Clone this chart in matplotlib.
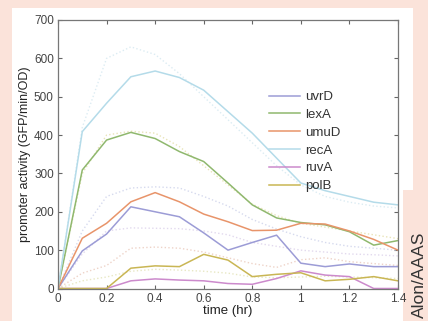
import numpy as np
import matplotlib
matplotlib.use('Agg')
from matplotlib import pyplot as plt
from matplotlib.patches import Polygon

plt.rcParams['font.family'] = ['Liberation Sans', 'DejaVu Sans']

t = [0, 0.1, 0.2, 0.3, 0.4, 0.5, 0.6, 0.7, 0.8, 0.9, 1.0, 1.1, 1.2, 1.3, 1.4]

uvrD = [0, 98, 142, 213, 200, 187, 145, 100, 120, 139, 66, 57, 64, 57, 57]
lexA = [0, 309, 387, 407, 391, 357, 331, 275, 218, 184, 172, 166, 148, 113, 125]
umuD = [0, 131, 170, 226, 250, 226, 194, 174, 151, 152, 170, 168, 150, 128, 100]
recA = [0, 409, 483, 552, 567, 550, 517, 461, 405, 340, 275, 255, 240, 225, 218]
ruvA = [0, 0, 0, 20, 25, 22, 20, 13, 11, 26, 46, 35, 31, 0, 0]
polB = [0, 0, 0, 53, 59, 57, 89, 74, 31, 37, 41, 20, 24, 31, 20]

names = ['uvrD', 'lexA', 'umuD', 'recA', 'ruvA', 'polB']
colors = ['#9c9cd6', '#8fb86e', '#e8946a', '#b4dbe9', '#cc8acc', '#c9b654']

# faint dotted curves (second data set)
dot_a = [0, 420, 600, 630, 610, 560, 500, 440, 380, 320, 270, 240, 225, 215, 210]
dot_b = [0, 300, 400, 410, 405, 370, 320, 270, 220, 190, 170, 160, 150, 140, 130]
dot_c = [0, 150, 240, 262, 265, 262, 240, 215, 180, 155, 135, 120, 110, 105, 100]
dot_d = [0, 90, 150, 158, 157, 156, 150, 140, 120, 110, 100, 95, 90, 88, 85]
dot_e = [0, 40, 60, 105, 108, 105, 95, 80, 65, 55, 75, 80, 70, 65, 60]
dot_f = [0, 20, 30, 45, 50, 48, 45, 40, 30, 28, 30, 32, 30, 28, 26]
dot_colors = ['#dcecf3', '#e9e4b8', '#d6daee', '#e2d9ee', '#eed3c8', '#e8e8c4']

fig = plt.figure(figsize=(4.28, 3.21), dpi=100)
fig.patch.set_facecolor('#fbe3da')

W, H = 428.0, 321.0
panel = [(12, 8), (413, 8), (413, 190), (403, 190), (403, 321), (12, 321)]
fig.patches.append(Polygon([(x / W, 1 - y / H) for x, y in panel], closed=True,
                           transform=fig.transFigure, facecolor='white',
                           edgecolor='none', zorder=-1))

ax = fig.add_axes([58 / W, 1 - 288.5 / H, 340 / W, 268.5 / H])
ax.set_zorder(1)
ax.set_facecolor('white')

for d, c in zip([dot_a, dot_b, dot_c, dot_d, dot_e, dot_f], dot_colors):
    ax.plot(t, d, ':', color=c, lw=1.0)

for d, n, c in zip([uvrD, lexA, umuD, recA, ruvA, polB], names, colors):
    ax.plot(t, d, '-', color=c, lw=1.1, label=n)

ax.set_xlim(0, 1.4)
ax.set_ylim(0, 700)
ax.set_xticks([0, 0.2, 0.4, 0.6, 0.8, 1, 1.2, 1.4])
ax.set_xticklabels(['0', '0.2', '0.4', '0.6', '0.8', '1', '1.2', '1.4'])
ax.set_yticks(range(0, 701, 100))
ax.tick_params(direction='in', top=True, right=True, length=3, width=0.8,
               color='#666666', labelsize=8.5, labelcolor='#444444', pad=3)
for s in ax.spines.values():
    s.set_color('#777777')
    s.set_linewidth(0.9)

ax.set_xlabel('time (hr)', fontsize=9.5, color='#222222', labelpad=0)
ax.set_ylabel('promoter activity (GFP/min/OD)', fontsize=9, color='#222222', labelpad=2)

leg = ax.legend(loc='upper left', bbox_to_anchor=(0.6, 0.76), frameon=False,
                fontsize=9.5, handlelength=2.4, handletextpad=0.4,
                labelspacing=0.42, borderpad=0)
for txt in leg.get_texts():
    txt.set_color('#333333')

fig.text(419 / W, 1 - 232 / H, 'Alon/AAAS', rotation=90, ha='center', va='top',
         fontsize=12.5, color='#333333')

fig.savefig('out.png', dpi=100, facecolor=fig.get_facecolor())
